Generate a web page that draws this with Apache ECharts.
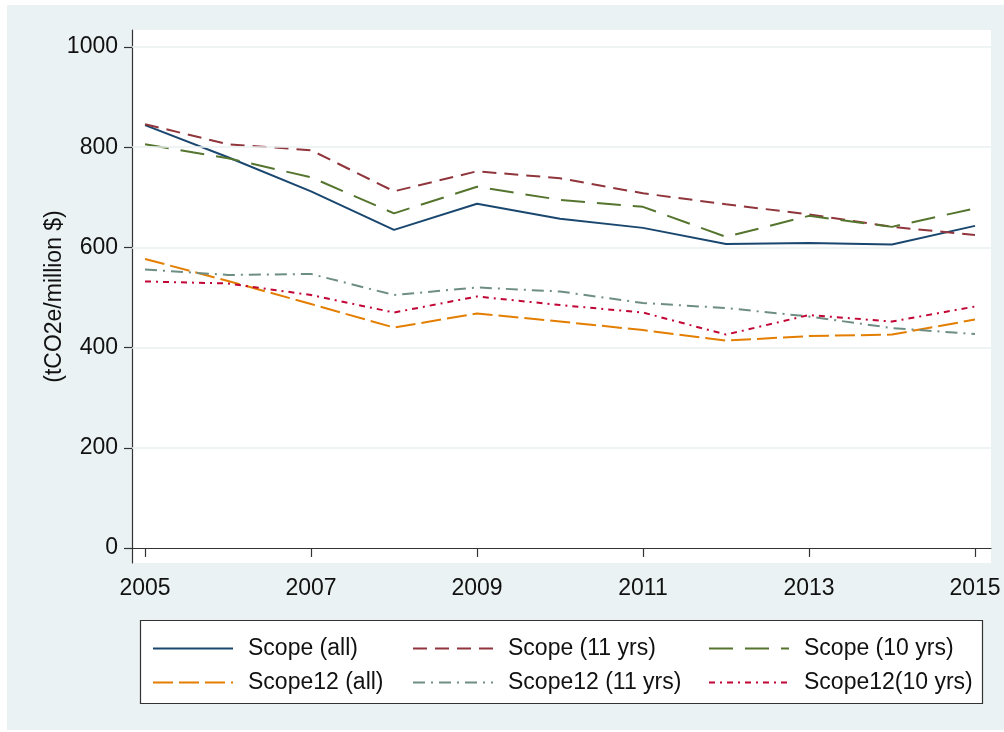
<!DOCTYPE html>
<html>
<head>
<meta charset="utf-8">
<script src="https://cdn.jsdelivr.net/npm/echarts@6/dist/echarts.min.js"></script>
<style>
html,body{margin:0;padding:0;background:#fff;}
#c{width:1004px;height:732px;}
</style>
</head>
<body>
<div id="c"></div>
<script>
var years = [2005, 2006, 2007, 2008, 2009, 2010, 2011, 2012, 2013, 2014, 2015];
var scopeAll   = [844, 780, 712, 635, 687, 657, 639, 607, 609, 606, 643];
var scope11    = [846, 806, 794, 712, 752, 738, 708, 686, 666, 641, 625];
var scope10    = [806, 778, 740, 668, 721, 695, 681, 621, 663, 641, 678];
var scope12All = [577, 533, 487, 440, 468, 452, 435, 414, 423, 426, 456];
var scope12_11 = [556, 545, 547, 505, 520, 512, 489, 479, 462, 439, 427];
var scope12_10 = [532, 528, 505, 470, 502, 485, 470, 426, 465, 452, 482];
var xTicks = [2005, 2007, 2009, 2011, 2013, 2015];
var yTicks = [0, 200, 400, 600, 800, 1000];
var gridValues = [200, 400, 600, 800, 1000];
var seriesNames = ['Scope (all)', 'Scope (11 yrs)', 'Scope (10 yrs)', 'Scope12 (all)', 'Scope12 (11 yrs)', 'Scope12(10 yrs)'];
var seriesData = [scopeAll, scope11, scope10, scope12All, scope12_11, scope12_10];
var seriesColors = ['#1a476f', '#90353b', '#55752f', '#e37e00', '#6e8e84', '#c10534'];
var seriesDash = ['solid', [14, 8], [24, 12], [20, 6], [12, 6, 2, 6], [6, 5, 2, 5]];

var FONT = '"Liberation Sans", Arial, Helvetica, sans-serif';

function pairs(arr) {
  return years.map(function (y, i) { return [y, arr[i]]; });
}

var series = [{
  type: 'line', name: '__grid', data: [], z: 1, silent: true,
  markLine: {
    silent: true, symbol: 'none', label: {show: false},
    lineStyle: {color: '#e9eff1', width: 1.5, type: 'solid'},
    data: gridValues.map(function (v) { return {yAxis: v}; })
  }
}];
seriesNames.forEach(function (n, i) {
  series.push({
    type: 'line', name: n, data: pairs(seriesData[i]), z: 3,
    showSymbol: false, symbol: 'none', silent: true, animation: false,
    lineStyle: {color: seriesColors[i], width: 2, type: seriesDash[i]},
    itemStyle: {color: seriesColors[i]}
  });
});

var legendPos = [[152, 637], [412, 637], [708, 637], [152, 671], [412, 671], [708, 671]];
var legends = seriesNames.map(function (n, i) {
  return {
    data: [n], left: legendPos[i][0], top: legendPos[i][1], padding: 0,
    itemWidth: 80, itemHeight: 22, selectedMode: false,
    itemStyle: {opacity: 0, borderWidth: 0},
    textStyle: {fontFamily: FONT, fontSize: 23, color: '#111', padding: [0, 0, 0, 10]}
  };
});

var chart = echarts.init(document.getElementById('c'), null, {renderer: 'canvas'});
chart.setOption({
  animation: false,
  backgroundColor: '#ffffff',
  graphic: [
    {type: 'rect', z: -10, silent: true, shape: {x: 7, y: 5, width: 997, height: 725}, style: {fill: '#eaf2f3'}},
    {type: 'rect', z: 0, silent: true, shape: {x: 140.5, y: 620.5, width: 842, height: 83}, style: {fill: '#ffffff', stroke: '#333', lineWidth: 1.2}}
  ],
  grid: {left: 132, top: 30, right: 13, bottom: 169, show: true, backgroundColor: '#ffffff', borderWidth: 0, containLabel: false},
  legend: legends,
  xAxis: {
    type: 'value', min: 2004.843, max: 2015.193,
    axisLine: {show: true, lineStyle: {color: '#333', width: 1.2}},
    axisTick: {show: true, customValues: xTicks, length: 9, inside: false, lineStyle: {color: '#333', width: 1.2}},
    axisLabel: {customValues: xTicks, margin: 14, fontFamily: FONT, fontSize: 23, color: '#111', formatter: function (v) { return String(v); }},
    splitLine: {show: false}
  },
  yAxis: {
    type: 'value', min: -30, max: 1034,
    name: '(tCO2e/million $)', nameLocation: 'middle', nameRotate: 90, nameGap: 66,
    nameMoveOverlap: false,
    nameTextStyle: {fontFamily: FONT, fontSize: 23, color: '#111'},
    axisLine: {show: true, lineStyle: {color: '#333', width: 1.2}},
    axisTick: {show: true, customValues: yTicks, length: 8, inside: false, lineStyle: {color: '#333', width: 1.2}},
    axisLabel: {customValues: yTicks, margin: 14, fontFamily: FONT, fontSize: 23, color: '#111', formatter: function (v) { return String(v); }},
    splitLine: {show: false}
  },
  series: series
});
</script>
</body>
</html>
